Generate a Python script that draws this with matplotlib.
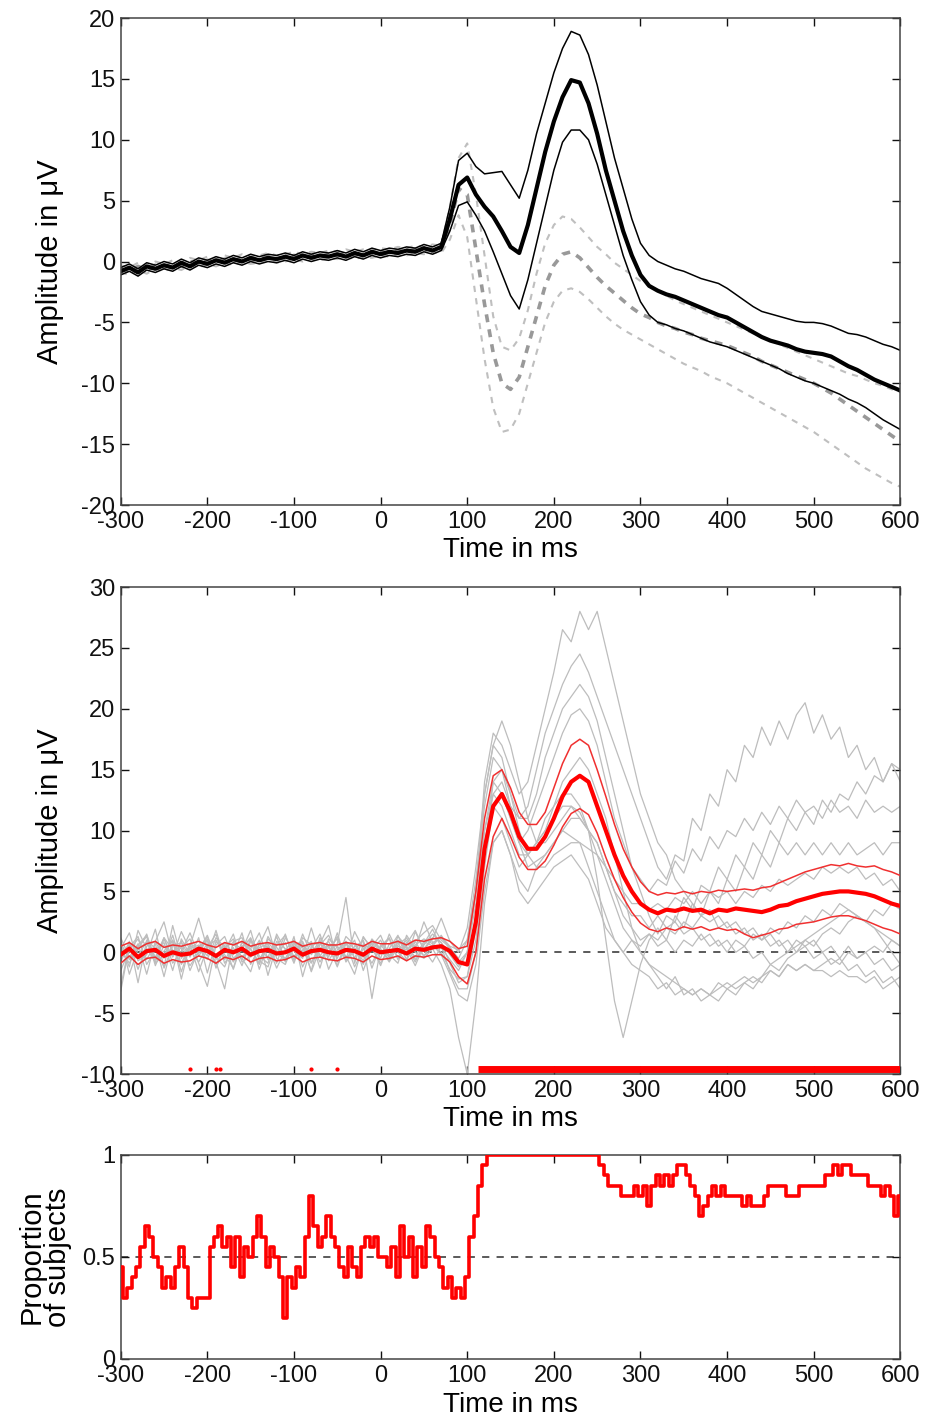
import numpy as np
import matplotlib
matplotlib.use('Agg')
from matplotlib import pyplot as plt

plt.rcParams['font.family'] = ['Liberation Sans', 'DejaVu Sans']
plt.rcParams['font.size'] = 17
plt.rcParams['axes.unicode_minus'] = False

# time grids (ms)
t10 = np.arange(-300, 601, 10)
t5 = np.arange(-300, 601, 5)

# ---- top panel: grand averages (black = condition, dashed gray = control) ----
top_mean = [-0.8, -0.5, -0.9, -0.4, -0.6, -0.3, -0.5, -0.1, -0.4, 0.0, -0.2, 0.1, -0.1, 0.2, 0.0, 0.3, 0.1, 0.3, 0.2,
            0.4, 0.2, 0.5, 0.3, 0.5, 0.4, 0.6, 0.4, 0.7, 0.5, 0.8, 0.6, 0.8, 0.7, 0.9, 0.8, 1.1, 0.9, 1.2,
            3.5, 6.3, 6.9, 5.5, 4.5, 3.7, 2.5, 1.2, 0.7, 3.0, 6.0, 9.0, 11.5, 13.5, 14.9, 14.7, 13.0, 10.5, 7.5, 5.0,
            2.5, 0.5, -1.1, -2.0, -2.4, -2.7, -2.9, -3.2, -3.5, -3.8, -4.1, -4.4, -4.6, -5.0, -5.4, -5.8, -6.2, -6.5,
            -6.7, -6.9, -7.2, -7.4, -7.5, -7.6, -7.8, -8.2, -8.6, -8.9, -9.3, -9.7, -10.0, -10.3, -10.6]
top_hi = [-0.5, -0.2, -0.6, -0.1, -0.3, 0.0, -0.2, 0.2, -0.1, 0.3, 0.1, 0.4, 0.2, 0.5, 0.3, 0.6, 0.4, 0.6, 0.5,
          0.7, 0.5, 0.8, 0.6, 0.8, 0.7, 0.9, 0.7, 1.0, 0.8, 1.1, 0.9, 1.1, 1.0, 1.2, 1.1, 1.4, 1.2, 1.5,
          4.5, 8.3, 8.9, 7.8, 7.2, 7.3, 7.4, 6.3, 5.2, 7.5, 10.5, 13.0, 15.5, 17.5, 18.9, 18.6, 17.0, 14.5, 11.5,
          8.5, 6.0, 3.5, 1.5, 0.5, 0.0, -0.3, -0.6, -0.8, -1.1, -1.4, -1.6, -1.8, -2.2, -2.7, -3.2, -3.7, -4.1,
          -4.3, -4.5, -4.7, -4.9, -5.0, -5.0, -5.1, -5.3, -5.6, -5.9, -6.0, -6.2, -6.5, -6.8, -7.0, -7.3]
top_lo = [-1.1, -0.8, -1.2, -0.7, -0.9, -0.6, -0.8, -0.4, -0.7, -0.3, -0.5, -0.2, -0.4, -0.1, -0.3, 0.0, -0.2, 0.0,
          -0.1, 0.1, -0.1, 0.2, 0.0, 0.2, 0.1, 0.3, 0.1, 0.4, 0.2, 0.5, 0.3, 0.5, 0.4, 0.6, 0.5, 0.8, 0.6, 0.9,
          2.5, 4.6, 4.9, 3.8, 2.5, 0.8, -1.0, -2.8, -3.9, -1.5, 1.5, 4.5, 7.5, 9.8, 10.8, 10.8, 10.0, 8.0, 5.5,
          3.0, 0.5, -1.5, -3.3, -4.4, -5.0, -5.2, -5.5, -5.7, -6.0, -6.3, -6.6, -6.8, -7.0, -7.3, -7.6, -7.9,
          -8.2, -8.5, -8.8, -9.2, -9.5, -9.8, -10.0, -10.3, -10.6, -10.9, -11.3, -11.6, -12.0, -12.5, -13.0,
          -13.4, -13.8]
ctrl_mean = [-0.6, -0.8, -0.4, -0.7, -0.3, -0.5, -0.2, -0.4, 0.0, -0.2, 0.1, -0.1, 0.2, 0.0, 0.3, 0.1, 0.2, 0.4,
             0.2, 0.3, 0.5, 0.3, 0.5, 0.4, 0.6, 0.5, 0.7, 0.5, 0.7, 0.6, 0.8, 0.7, 0.9, 0.8, 1.0, 0.9, 1.1, 1.0,
             3.0, 6.0, 5.5, 1.0, -3.5, -7.5, -10.0, -10.5, -9.5, -7.0, -4.5, -2.0, -0.3, 0.6, 0.8, 0.3, -0.5, -1.3,
             -2.0, -2.6, -3.2, -3.8, -4.3, -4.6, -5.0, -5.3, -5.5, -5.8, -6.0, -6.3, -6.5, -6.7, -6.9, -7.2, -7.5,
             -7.8, -8.2, -8.5, -8.8, -9.1, -9.4, -9.7, -10.0, -10.4, -10.8, -11.3, -11.8, -12.3, -12.8, -13.3,
             -13.8, -14.3, -14.8]
ctrl_hi = [-0.3, -0.5, -0.1, -0.4, 0.0, -0.2, 0.1, -0.1, 0.3, 0.1, 0.4, 0.2, 0.5, 0.3, 0.6, 0.4, 0.5, 0.7, 0.5,
           0.6, 0.8, 0.6, 0.8, 0.7, 0.9, 0.8, 1.0, 0.8, 1.0, 0.9, 1.1, 1.0, 1.2, 1.1, 1.3, 1.2, 1.4, 1.3,
           4.5, 8.5, 9.7, 5.5, 0.5, -4.5, -7.0, -7.3, -6.3, -4.0, -1.0, 1.5, 3.0, 3.7, 3.5, 2.8, 2.0, 1.2, 0.6,
           -0.1, -0.6, -1.1, -1.6, -2.0, -2.4, -2.8, -3.2, -3.5, -3.8, -4.1, -4.4, -4.7, -5.0, -5.3, -5.6, -5.9,
           -6.2, -6.5, -6.8, -7.1, -7.4, -7.7, -8.0, -8.3, -8.6, -8.9, -9.2, -9.4, -9.7, -10.0, -10.2, -10.5,
           -10.7]
ctrl_lo = [-0.9, -1.1, -0.7, -1.0, -0.6, -0.8, -0.5, -0.7, -0.3, -0.5, -0.2, -0.4, -0.1, -0.3, 0.0, -0.2, -0.1,
           0.1, -0.1, 0.0, 0.2, 0.0, 0.2, 0.1, 0.3, 0.2, 0.4, 0.2, 0.4, 0.3, 0.5, 0.4, 0.6, 0.5, 0.7, 0.6, 0.8, 0.7,
           1.8, 3.8, 2.0, -3.0, -8.0, -12.0, -14.0, -13.8, -12.5, -10.0, -7.5, -5.0, -3.3, -2.4, -2.2, -2.5, -3.1,
           -3.8, -4.5, -5.1, -5.6, -6.0, -6.4, -6.8, -7.2, -7.6, -8.0, -8.4, -8.7, -9.0, -9.4, -9.7, -10.0, -10.4,
           -10.8, -11.2, -11.6, -12.0, -12.4, -12.8, -13.2, -13.6, -14.0, -14.5, -15.0, -15.5, -16.0, -16.5,
           -17.0, -17.4, -17.8, -18.2, -18.5]

# ---- middle panel: single subjects (gray) and group mean with CI (red) ----
# pre-stimulus part (-300..90 ms)
gray_base = [
    [0.5, -1.2, 1.8, 0.3, -0.8, 1.1, -0.4, 0.9, -1.5, 0.2, 1.4, -0.6, 0.8, -0.2, 1.6, -1.0, 0.4, 0.7, -0.9, 1.2,
     0.1, -0.5, 2.0, -0.3, 0.6, -1.1, 0.9, 0.3, -0.7, 1.0, 0.2, -0.4, 1.3, 0.5, -0.8, 0.7, 1.9, 0.4, -0.6, -1.5],
    [-0.8, 0.9, -2.5, 1.0, 0.3, -1.2, 2.2, -0.5, 0.6, -1.6, 0.4, 1.5, -0.9, 0.2, -0.6, 1.1, -1.4, 0.8, 0.0, -0.7,
     1.3, -2.0, 0.5, 0.9, -0.4, 1.6, -0.8, 0.2, 1.0, -1.3, 0.6, -0.2, -0.9, 1.4, 0.3, 2.5, 0.8, 1.2, 0.4, -0.5],
    [1.2, -0.4, 0.7, -1.8, 0.9, 2.5, -0.3, 0.4, 1.1, -0.9, -2.8, 0.6, 1.3, -0.5, 0.2, 1.8, -0.7, -1.2, 0.9, 0.3,
     -0.6, 1.5, -0.2, 0.7, 2.2, -0.8, 0.1, 1.0, -1.5, 0.5, 1.4, -0.3, 0.8, -0.6, 1.7, 0.2, 1.1, 2.8, 0.9, 0.0],
    [-2.8, 0.6, 0.2, 1.5, -0.9, -0.2, 1.0, -1.6, 0.5, 2.8, 0.3, -0.8, -3.0, 0.9, 1.2, -0.4, 0.6, 2.1, -0.5, -1.0,
     0.8, 0.4, -1.5, 1.2, 0.0, 0.7, 4.5, -0.9, 1.3, 0.2, 0.2, -0.7, 0.9, 0.3, -1.1, 0.6, 1.5, 0.8, -0.2, -1.2],
    [0.3, 1.6, -0.7, -0.2, 1.9, -1.3, 0.5, 0.8, -0.4, 1.2, -1.7, 0.9, 0.1, 1.5, -0.8, -0.3, 1.0, -1.9, 0.6, 1.4,
     -0.4, 0.2, 0.9, -1.3, 1.1, 0.4, -0.6, 1.7, 0.3, -0.9, 0.5, 1.2, -0.5, 0.8, 0.4, -0.3, 0.6, 0.0, -1.4, -2.2],
    [-1.5, 0.2, 1.1, -0.6, 0.7, -2.0, 0.9, 0.3, -1.1, 0.0, 1.3, -0.5, 0.6, -1.4, 0.8, 0.2, -0.9, 1.1, 0.4, -0.6,
     0.9, -1.2, 0.3, 1.5, -0.7, 0.5, -0.3, -1.8, 0.7, 0.2, 1.0, -0.4, 0.6, 1.2, 0.0, -0.5, 0.3, -1.0, -3.0, -7.0],
    [0.8, -0.6, 0.4, 1.3, -1.1, 0.6, -0.3, 1.7, 0.2, -0.8, 0.5, 1.0, -0.2, -1.3, 0.9, 0.3, 1.6, -0.6, -0.2, 0.8,
     -0.9, 1.2, 0.6, -0.4, -0.1, 1.3, -0.7, 0.5, 0.9, -3.8, 0.4, 1.1, -0.6, 0.7, 1.8, 0.2, -0.8, 0.5, -1.6, -3.0],
    [-0.3, 0.7, -1.4, 0.5, 0.9, -0.5, 1.4, -1.0, 0.3, 0.6, -0.3, 1.8, -0.6, 0.4, -1.1, 0.9, 0.2, -0.4, 1.3, -0.8,
     0.5, 0.1, -0.9, 0.6, 1.4, -0.2, 0.8, -1.2, 0.3, 0.7, -0.5, 1.5, 0.0, -0.7, 0.9, 1.6, 2.2, 1.0, 0.4, -0.8],
    [1.0, -1.8, 0.3, 0.8, -0.4, 1.2, -0.9, 0.1, 1.6, -0.3, 0.7, -1.0, 0.4, 1.1, -0.5, -1.6, 0.8, 0.3, -0.2, 1.5,
     -0.7, 0.6, -0.1, 1.0, -1.4, 0.2, 0.9, -0.5, 1.2, 0.4, -0.9, 0.3, 1.4, -0.2, 0.6, 1.1, 0.7, 1.3, 0.5, 0.2],
    [-0.6, 0.4, 1.3, -1.0, 0.2, 0.8, -1.5, 1.1, -0.2, 0.5, 0.9, -0.4, -1.2, 0.7, 0.3, 1.2, -0.6, 0.5, -1.3, 0.2,
     1.0, -0.3, 0.7, -0.8, 0.4, 1.1, -0.5, 0.3, -1.0, 0.8, 0.1, -0.6, 1.0, 0.4, -0.4, 0.9, 0.5, 1.4, 0.2, -1.0],
    [0.2, -0.9, 0.6, 1.4, -0.5, 0.1, 1.0, -2.2, 0.7, 0.3, -0.6, 1.2, 0.4, -0.8, 0.5, 1.1, -0.3, -0.9, 1.5, 0.2,
     -0.4, 0.8, -1.6, 0.3, 0.9, -0.5, 1.3, 0.6, -0.2, 0.4, -1.1, 0.7, 0.2, 1.0, -0.6, 0.3, 1.2, 0.8, -0.9, -2.5],
    [-3.2, 0.5, -0.3, 0.9, -0.6, 1.2, 0.2, -0.9, 0.6, -0.1, 1.1, -1.3, 0.4, 0.8, -0.5, 0.3, -1.0, 1.3, 0.1, -0.5,
     0.6, 0.9, -0.8, 0.2, 0.5, -1.2, 0.7, 0.0, -0.4, 1.1, 0.3, -0.8, 0.5, 0.2, 0.9, -0.3, 0.6, -0.2, -1.8, -3.5],
]
# post-stimulus part (100..600 ms)
gray_post = [
    [0, 5, 14, 18, 17, 15, 13, 14, 17, 20, 23, 26.5, 25.5, 28, 26.5, 28, 25, 22, 19, 16, 13, 11, 9, 8, 6, 5, 4, 3,
     3.5, 2, 2.5, 1.5, 2, 1, 1.5, 0.5, 1, 0, 1, 0.5, 1, 0, 0.5, -0.5, 0.5, -0.5, 0, -1, -0.5, -1.5, -1],
    [1, 6, 12, 16, 15, 12, 11, 12, 15, 18, 20, 22, 23.5, 24.5, 23, 21, 19, 17, 15, 13, 11, 9, 7,
     6, 8, 7.5, 11, 10, 13, 12, 15, 14, 17, 16, 18.5, 17, 19, 17.5, 19.5, 20.5, 18, 19.5, 17.5, 18.5, 16, 17, 15,
     16, 14, 15.5, 14],
    [2, 7, 13, 17, 16, 13, 11, 11, 13, 16, 18, 20, 21, 22, 21, 19, 16, 13, 10, 7, 5,
     3, 1.5, 3, 2.5, 4.5, 3.5, 5.5, 5, 7, 6, 8, 7, 9, 8, 10, 9, 11, 10, 11.5, 10.5, 12.5, 11.5, 13, 12.5, 14, 13,
     14.5, 14, 15.5, 15],
    [0, 4, 10, 14, 13, 11, 9, 10, 12, 14, 16, 18, 19.5, 20, 19, 17, 14, 11, 9, 7, 6,
     5, 6, 5.5, 7.5, 6.5, 8.5, 7.5, 9.5, 8.5, 10, 9.5, 11, 10, 11.5, 10.5, 12, 11, 12.5, 11.5, 12, 11, 12.5, 11.5,
     12, 11, 12.5, 11.5, 12, 11.5, 12],
    [-2, 2, 8, 12, 11, 9, 7, 8, 9, 11, 12, 13, 13, 12, 10, 6, 1, -4, -7, -4, -1, 1, 2, 1, 3, 2, 4, 3, 5, 4, 6, 5,
     7, 6, 8, 7, 9, 8, 9, 8, 9, 8, 9, 8, 9, 8, 8.5, 9, 8, 9, 9],
    [-10, -4, 4, 9, 10, 8, 6, 5, 7, 8, 9, 10, 9.5, 9, 7, 5, 3, 1, 0, -1, -1.5, -2, -3, -2.5, -3.5, -3, -3.5, -3,
     -3.5, -2.5, -3, -2.5, -2, -2.5, -2, -1.5, -2, -1, -1.5, -1, -1.5, -1, -0.5, -1, 0, -0.5, 0, 0.5, 0, 1, 0.5],
    [-3, 0, 7, 12, 13, 11, 9, 8, 9, 10, 11, 12, 12, 11.5, 10, 8, 6, 4, 2, 1, 0, -1, -1.5, -2, -2.5, -3, -3.5, -3,
     -3.5, -3, -2.5, -3, -2.5, -2, -2.5, -1.5, -2, -1, -1.5, -1, -1.5, -1.5, -2, -1.5, -2, -2, -2.5, -2, -3, -2.5,
     -2],
    [0, 5, 13, 17, 19, 17, 14, 11, 9, 9, 10, 11, 12, 11, 10, 9, 7, 5, 4, 3, 3, 2, 3, 2, 2.5, 1.5, 2, 1, 1.5, 0.5,
     1, 0, 0.5, -0.5, 0, -1, -0.5, 0, 0.5, 1, 1.5, 2, 2.5, 3, 3.5, 3, 2.5, 2, 1, 0, -1],
    [1, 5, 10, 13, 12, 10, 8, 8, 9, 10, 12, 14, 15, 16, 15, 13, 11, 8, 5, 2, 0, -1, -2, -3, -2, -3.5, -3, -4, -3.5,
     -4, -3, -3.5, -2.5, -3, -2, -1, -1.5, -0.5, 0, 1, 0.5, 1.5, 2, 1.5, 2.5, 3, 2.5, 3.5, 3, 4, 3.5],
    [-1, 3, 9, 13, 14, 12, 9, 7, 7.5, 8, 9, 10, 11, 11, 10, 9, 7, 6, 5, 4, 4, 3.5, 4, 3.5, 4.5, 4, 5, 4, 5, 4.5, 5,
     4, 5, 4.5, 5.5, 5, 6, 5.5, 6, 6.5, 6, 7, 6.5, 7, 6.5, 7, 6, 6.5, 5.5, 6, 5],
    [-2, 1, 8, 14, 15, 13, 10, 8, 7, 7, 8, 8.5, 9, 9, 8.5, 8, 7, 5, 3, 2, 1, 1.5, 0.5, 1, 0, 1, 0.5, 1.5, 0.5, 1,
     0, 1, 0.5, 1.5, 1, 2, 1.5, 2.5, 2, 3, 2.5, 3.5, 3, 4, 3.5, 3, 2.5, 2, 1.5, 1, 0.5],
    [-4, -1, 5, 9, 10, 8, 5, 4, 5, 6, 7, 7.5, 8, 7, 6, 4, 2, 1, 0, 1, 0.5, 1.5, 1, 2, 1.5, 2.5, 2, 3, 2.5, 3, 2,
     2.5, 1.5, 2, 1, 1.5, 0.5, 1, 0, 0.5, -0.5, 0, -1, -0.5, -1.5, -1, -2, -1.5, -2.5, -2, -3],
]
red_mean = [-0.2, 0.3, -0.4, 0.1, 0.2, -0.3, 0.0, -0.2, -0.1, 0.3, 0.1, -0.3, 0.2, 0.0, 0.3, -0.2, 0.1, 0.2, -0.1,
            0.0, 0.3, -0.2, 0.1, 0.2, 0.0, -0.1, 0.2, 0.1, -0.2, 0.3, 0.0, 0.1, 0.2, -0.1, 0.3, 0.2, 0.4, 0.5,
            0.1, -0.8, -1.0, 2.5, 8.5, 12.0, 13.0, 11.5, 9.5, 8.5, 8.5, 9.5, 11.0, 12.8, 14.0, 14.5, 14.0, 12.0,
            10.0, 8.0, 6.3, 5.0, 4.0, 3.5, 3.2, 3.5, 3.4, 3.6, 3.4, 3.5, 3.2, 3.5, 3.4, 3.6, 3.5, 3.4, 3.3, 3.5,
            3.8, 3.9, 4.2, 4.4, 4.6, 4.8, 4.9, 5.0, 5.0, 4.9, 4.8, 4.6, 4.3, 4.0, 3.8]
red_hi = [0.5, 0.8, 0.3, 0.7, 0.9, 0.4, 0.6, 0.5, 0.7, 0.9, 0.6, 0.4, 0.8, 0.6, 0.9, 0.5, 0.7, 0.8, 0.6, 0.7, 0.9,
          0.5, 0.7, 0.8, 0.6, 0.6, 0.8, 0.7, 0.5, 0.9, 0.7, 0.7, 0.9, 0.6, 1.0, 0.9, 1.1, 1.2,
          0.9, 0.3, 0.5, 5.0, 11.0, 14.5, 15.0, 13.5, 11.5, 10.5, 10.5, 11.5, 13.5, 15.5, 17.0, 17.5, 17.0, 15.0,
          12.8, 10.5, 8.5, 7.0, 5.8, 5.0, 4.7, 4.9, 4.8, 5.0, 4.8, 5.0, 4.9, 5.1, 5.0, 5.1, 5.2, 5.1, 5.3, 5.4,
          5.7, 6.0, 6.3, 6.6, 6.8, 7.0, 7.2, 7.1, 7.3, 7.1, 7.0, 7.1, 6.8, 6.6, 6.3]
red_lo = [-0.9, -0.3, -1.0, -0.5, -0.4, -0.9, -0.6, -0.8, -0.7, -0.3, -0.5, -0.9, -0.4, -0.6, -0.3, -0.8, -0.5,
          -0.4, -0.7, -0.6, -0.3, -0.8, -0.5, -0.4, -0.6, -0.7, -0.4, -0.5, -0.8, -0.3, -0.6, -0.5, -0.3, -0.7,
          -0.3, -0.4, -0.2, -0.2,
          -0.8, -2.0, -2.6, 0.0, 6.0, 9.5, 11.0, 9.5, 7.8, 6.8, 6.8, 7.5, 8.8, 10.3, 11.4, 11.8, 11.3, 9.8, 7.8,
          6.0, 4.5, 3.3, 2.4, 1.9, 1.7, 2.0, 1.8, 2.1, 1.9, 2.1, 1.8, 2.0, 1.8, 1.9, 1.5, 1.2, 1.4, 1.6, 1.9, 2.0,
          2.3, 2.4, 2.5, 2.7, 2.9, 3.0, 3.0, 2.8, 2.6, 2.3, 2.0, 1.8, 1.5]
sig_points = [-220, -190, -185, -80, -50]   # isolated significant samples
sig_onset, sig_end = 112, 600                # sustained significance

# ---- bottom panel: proportion of subjects (5 ms steps) ----
prop = [0.45, 0.3, 0.35, 0.4, 0.45, 0.55, 0.65, 0.6, 0.5, 0.45, 0.35, 0.4, 0.35, 0.45, 0.55, 0.45, 0.3, 0.25, 0.3, 0.3,
        0.3, 0.55, 0.6, 0.65, 0.55, 0.6, 0.45, 0.6, 0.4, 0.55, 0.5, 0.6, 0.7, 0.6, 0.45, 0.55, 0.5, 0.4, 0.2, 0.4,
        0.35, 0.45, 0.4, 0.6, 0.8, 0.65, 0.55, 0.6, 0.7, 0.6, 0.55, 0.45, 0.4, 0.55, 0.45, 0.4, 0.55, 0.6, 0.55, 0.6,
        0.5, 0.5, 0.45, 0.55, 0.4, 0.65, 0.5, 0.6, 0.4, 0.55, 0.45, 0.65, 0.6, 0.5, 0.45, 0.35, 0.4, 0.3, 0.35, 0.3,
        0.4, 0.6, 0.7, 0.85, 0.95, 1, 1, 1, 1, 1, 1, 1, 1, 1, 1, 1, 1, 1, 1, 1,
        1, 1, 1, 1, 1, 1, 1, 1, 1, 1, 1, 0.95, 0.9, 0.85, 0.85, 0.85, 0.8, 0.8, 0.8, 0.85,
        0.8, 0.85, 0.75, 0.85, 0.9, 0.85, 0.9, 0.85, 0.9, 0.95, 0.95, 0.9, 0.85, 0.8, 0.7, 0.75, 0.8, 0.85, 0.8, 0.85,
        0.8, 0.8, 0.8, 0.8, 0.75, 0.8, 0.75, 0.75, 0.75, 0.8, 0.85, 0.85, 0.85, 0.85, 0.8, 0.8, 0.8, 0.85, 0.85, 0.85,
        0.85, 0.85, 0.85, 0.9, 0.9, 0.95, 0.9, 0.95, 0.95, 0.9, 0.9, 0.9, 0.9, 0.85, 0.85, 0.85, 0.8, 0.85, 0.8, 0.7,
        0.8]

xticks = [-300, -200, -100, 0, 100, 200, 300, 400, 500, 600]

fig = plt.figure(figsize=(9.43, 14.19), dpi=100)
ax1 = fig.add_axes([0.128, 0.6441, 0.8268, 0.3432])
ax2 = fig.add_axes([0.128, 0.2431, 0.8268, 0.3432])
ax3 = fig.add_axes([0.128, 0.0423, 0.8268, 0.1438])

# top
ax1.plot(t10, ctrl_hi, color='0.75', lw=1.5, dashes=(3, 3))
ax1.plot(t10, ctrl_lo, color='0.75', lw=1.5, dashes=(3, 3))
ax1.plot(t10, ctrl_mean, color='0.6', lw=2.6, dashes=(2.2, 2))
ax1.plot(t10, top_hi, color='k', lw=1.1)
ax1.plot(t10, top_lo, color='k', lw=1.1)
ax1.plot(t10, top_mean, color='k', lw=3.0)
ax1.set_ylim(-20, 20)
ax1.set_yticks(range(-20, 21, 5))

# middle
ax2.axhline(0, color='0.3', lw=1.3, dashes=(4, 4), zorder=1)
for b, p in zip(gray_base, gray_post):
    ax2.plot(t10, b + p, color='#bdbdbd', lw=0.9, zorder=2)
ax2.plot(t10, red_hi, color='#f03030', lw=1.1, zorder=3)
ax2.plot(t10, red_lo, color='#f03030', lw=1.1, zorder=3)
ax2.plot(t10, red_mean, color='#ff0000', lw=3.0, zorder=4)
ax2.plot(sig_points, [-9.6] * len(sig_points), ls='none', marker='.', ms=4, color='red', zorder=4)
ax2.plot([sig_onset, sig_end], [-9.6, -9.6], color='red', lw=5, solid_capstyle='butt', zorder=4)
ax2.set_ylim(-10, 30)
ax2.set_yticks(range(-10, 31, 5))

# bottom
ax3.axhline(0.5, color='0.3', lw=1.3, dashes=(4, 4), zorder=1)
ax3.plot(t5, prop, color='red', lw=2.6, drawstyle='steps-mid', zorder=3)
ax3.set_ylim(0, 1)
ax3.set_yticks([0, 0.5, 1])
ax3.set_yticklabels(['0', '0.5', '1'])

for ax in (ax1, ax2, ax3):
    ax.set_xlim(-300, 600)
    ax.set_xticks(xticks)
    ax.tick_params(direction='in', top=True, right=True, length=6, width=1, labelsize=17, pad=4, colors='#111111')
    for s in ax.spines.values():
        s.set_linewidth(1.1)
        s.set_color('#444444')
    ax.set_xlabel('Time in ms', fontsize=20)

ax1.set_ylabel('Amplitude in μV', fontsize=21)
ax2.set_ylabel('Amplitude in μV', fontsize=21)
ax3.set_ylabel('Proportion\nof subjects', fontsize=21, linespacing=0.95)
ax1.yaxis.set_label_coords(-0.073, 0.5)
ax2.yaxis.set_label_coords(-0.073, 0.5)
ax3.yaxis.set_label_coords(-0.062, 0.5)
ax1.xaxis.set_label_coords(0.5, -0.066)
ax2.xaxis.set_label_coords(0.5, -0.066)
ax3.xaxis.set_label_coords(0.5, -0.16)

fig.savefig('out.png', dpi=100)
